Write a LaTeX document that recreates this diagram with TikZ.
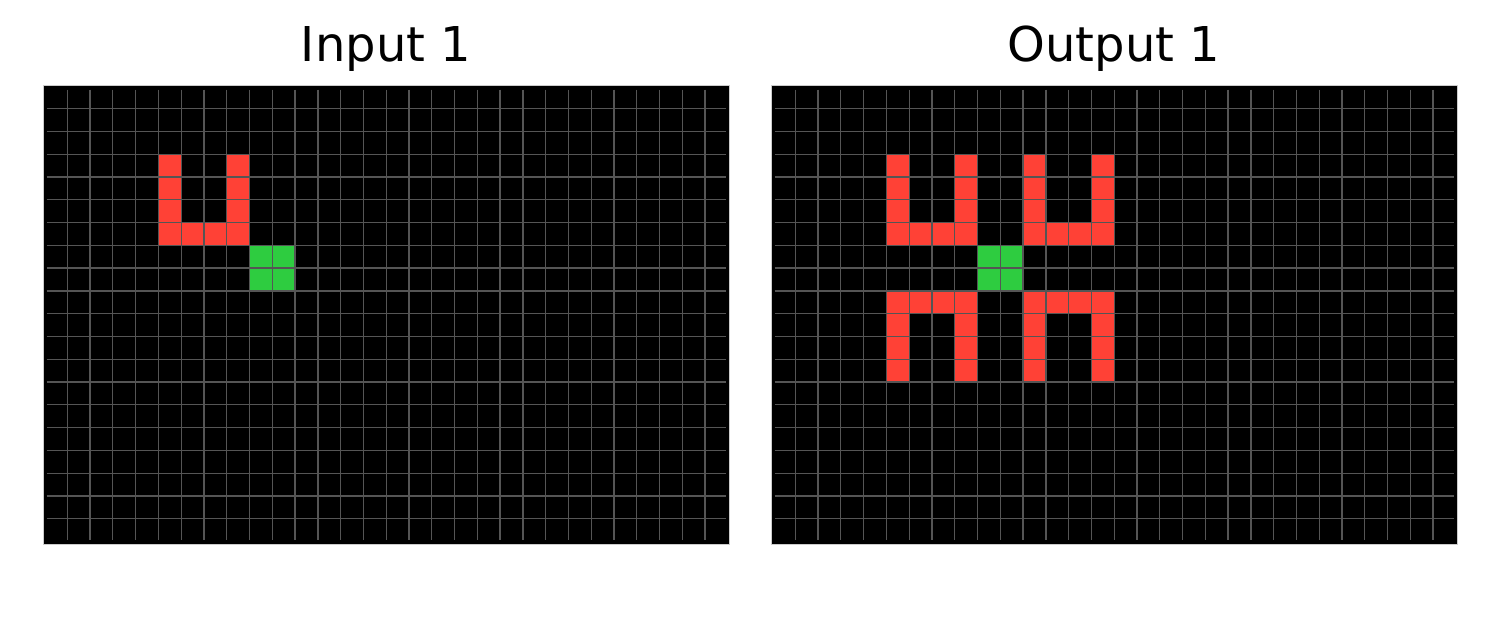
\documentclass[tikz,border=0pt]{standalone}
\usepackage{fontspec}
\setmainfont{DejaVu Sans}
\definecolor{arcred}{HTML}{FF4136}
\definecolor{arcgreen}{HTML}{2ECC40}
\definecolor{gridc}{HTML}{555555}
\definecolor{framec}{HTML}{CCCCCC}
\tikzset{
  title/.style={anchor=base, inner sep=0pt, font=\fontsize{48}{58}\selectfont},
  gridline/.style={draw=gridc, line width=1.3pt},
  redcell/.style={fill=arcred},
  greencell/.style={fill=arcgreen},
}
\newcommand\cw{22.78}
\newcommand\arcbase{%
  \fill[black] (-1.5,-0.6) rectangle (684.5,458.1);
}
\newcommand\arclines{%
  \foreach \k in {1,...,29} \draw[gridline] ({\k*\cw},3.8) -- ({\k*\cw},454.1);
  \foreach \k in {1,...,19} \draw[gridline] (2.2,{\k*\cw}) -- (681.2,{\k*\cw});
  \draw[framec, line width=0.8pt] (-1.5,-0.6) rectangle (684.5,458.1);
}
\begin{document}
\begin{tikzpicture}[x=1pt,y=-1pt]
\useasboundingbox (0,0) rectangle (1500,629);
\fill[white] (0,0) rectangle (1500,629);
\node[title] (tin) at (386,61.7) {Input 1};
\node[title] (tout) at (1114,61.7) {Output 1};
% input grid
\begin{scope}[shift={(44.5,85.9)}]
  \arcbase
  \foreach \c/\r in {5/3,5/4,5/5,5/6,6/6,7/6,8/3,8/4,8/5,8/6}
    \fill[redcell] ({\c*\cw},{\r*\cw}) rectangle ++(\cw,\cw);
  \foreach \c/\r in {9/7,10/7,9/8,10/8}
    \fill[greencell] ({\c*\cw},{\r*\cw}) rectangle ++(\cw,\cw);
  \arclines
\end{scope}
% output grid
\begin{scope}[shift={(772.5,85.9)}]
  \arcbase
  \foreach \c/\r in {5/3,5/4,5/5,5/6,6/6,7/6,8/3,8/4,8/5,8/6,
                     11/3,11/4,11/5,11/6,12/6,13/6,14/3,14/4,14/5,14/6,
                     5/9,6/9,7/9,8/9,5/10,5/11,5/12,8/10,8/11,8/12,
                     11/9,12/9,13/9,14/9,11/10,11/11,11/12,14/10,14/11,14/12}
    \fill[redcell] ({\c*\cw},{\r*\cw}) rectangle ++(\cw,\cw);
  \foreach \c/\r in {9/7,10/7,9/8,10/8}
    \fill[greencell] ({\c*\cw},{\r*\cw}) rectangle ++(\cw,\cw);
  \arclines
\end{scope}
\end{tikzpicture}
\end{document}
